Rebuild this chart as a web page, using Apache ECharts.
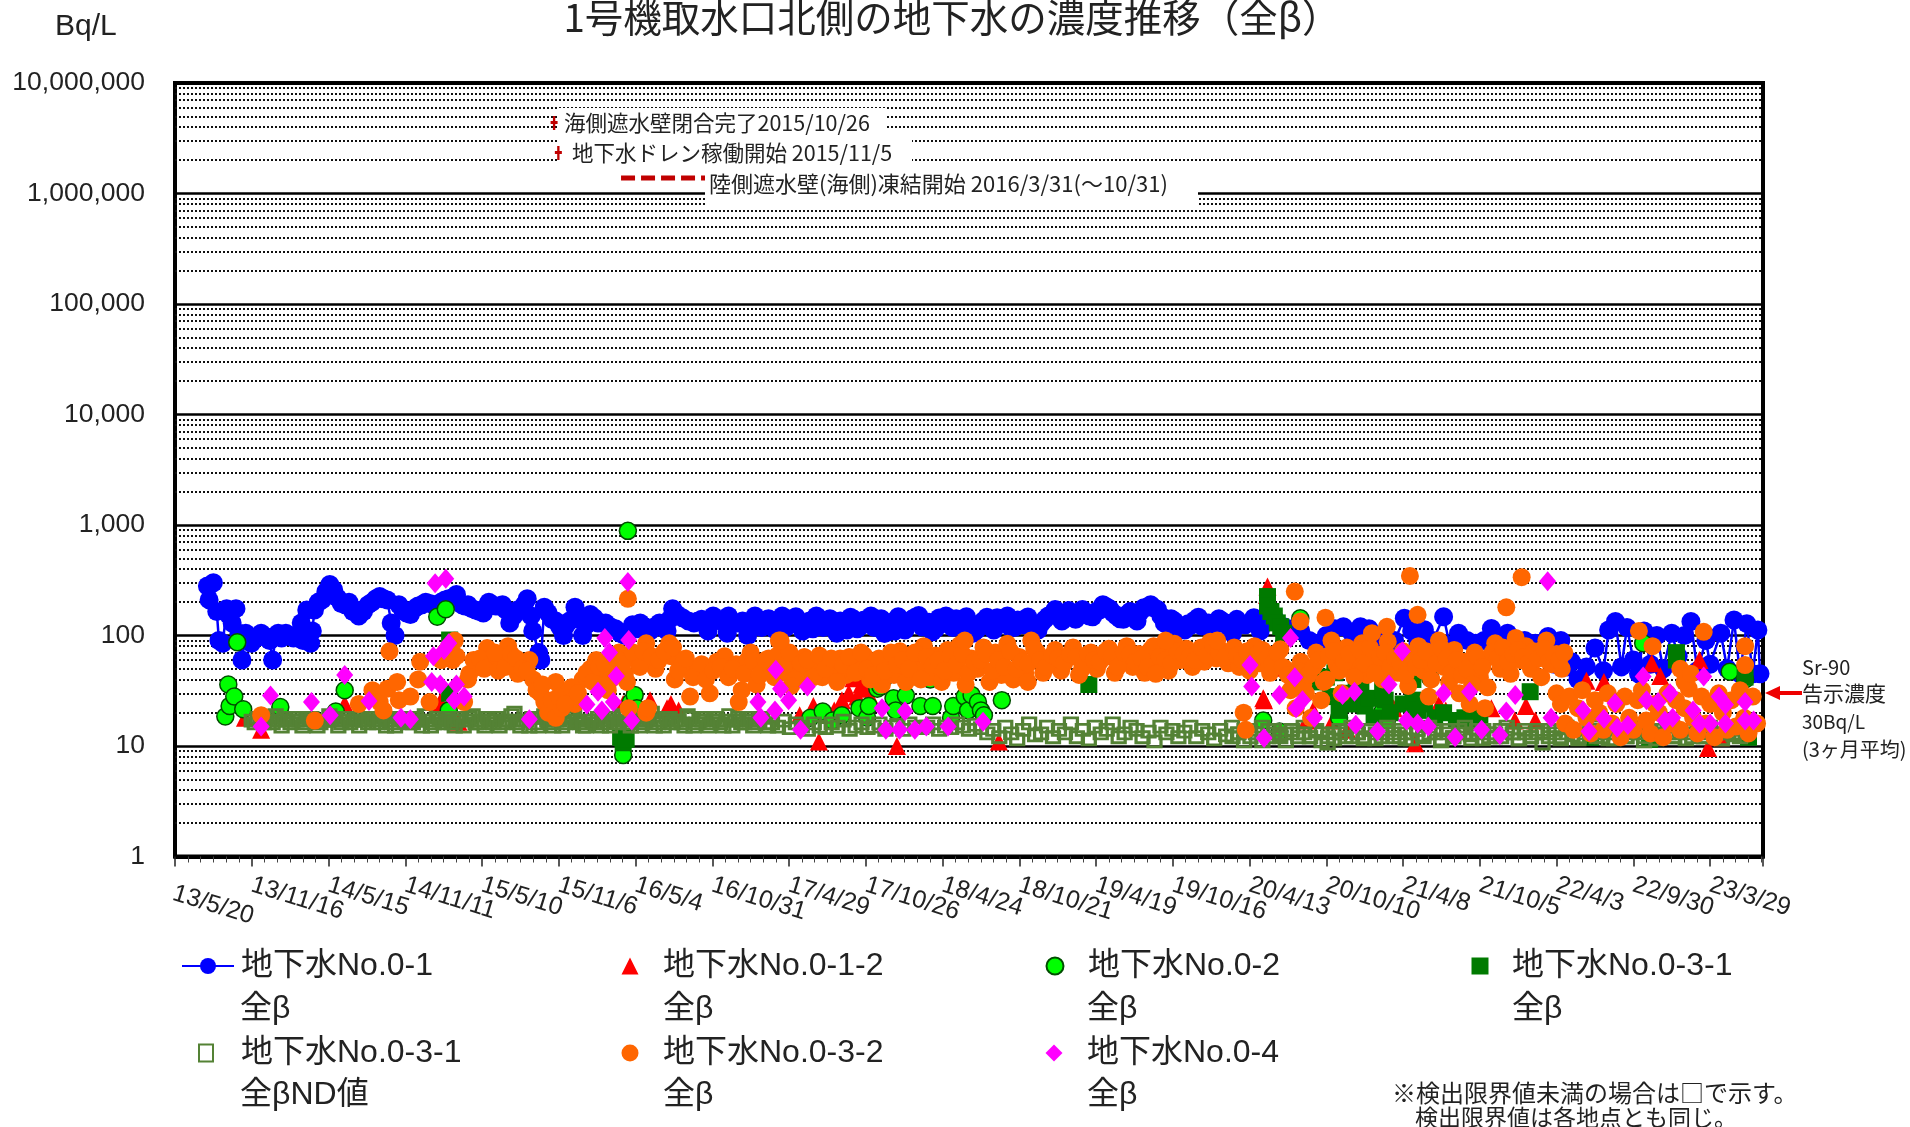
<!DOCTYPE html>
<html><head><meta charset="utf-8">
<script src="https://cdn.jsdelivr.net/npm/echarts@6/dist/echarts.min.js"></script>
<style>html,body{margin:0;background:#fff}#c{width:1910px;height:1127px}</style></head>
<body><div id="c"></div>
<script>
const xTickLabels=['13/5/20','13/11/16','14/5/15','14/11/11','15/5/10','15/11/6','16/5/4','16/10/31','17/4/29','17/10/26','18/4/24','18/10/21','19/4/19','19/10/16','20/4/13','20/10/10','21/4/8','21/10/5','22/4/3','22/9/30','23/3/29'];
const minorGridValues=[];
for(const d of [1,10,100,1000,10000,100000,1000000])for(const m of [2,3,4,5,6,7,8,9])minorGridValues.push(d*m);

// x = days since 2013-05-20
const no01Early=[[76,281],[90,300],[80,210],[98,165],[103,90],[112,85],[121,175],[125,155],[134,130],[143,175],[157,60],[166,105],[179,85],[202,105],[215,95],[229,60],[242,105],[260,105],[278,95],[296,130],[300,90],[309,170],[318,85],[327,170],[345,210],[363,290],[372,260],[390,195],[408,200],[417,165],[431,150],[453,190],[480,225],[498,210],[507,130],[516,100],[525,190],[552,155],[570,185],[588,200],[606,190],[624,200],[642,215],[660,235],[673,190],[687,190],[705,170],[723,160],[736,200],[752,185],[768,190],[776,170],[785,130],[803,170],[826,215],[835,150],[839,110],[853,70],[858,60],[866,180],[884,140],[911,100],[925,135],[938,180],[956,100],[974,155],[992,130],[1010,130],[1033,115],[1055,100],[1064,110],[1091,130],[1114,110],[1136,130],[1154,110],[1167,175],[1190,145],[1217,130],[1235,140],[1250,110],[1262,150],[1280,135],[1295,105],[1298,150],[1320,130],[1343,100]];
const no01Fill=[[150,105],[172,100],[190,95],[208,100],[222,90],[236,100],[250,95],[268,100],[287,100],[308,95],[322,110],[336,200],[354,250],[381,220],[399,190],[424,170],[442,165],[462,200],[471,215],[489,215],[534,170],[543,160],[561,175],[579,190],[597,195],[615,190],[633,210],[651,220],[666,200],[680,185],[696,175],[714,165],[730,180],[744,190],[760,185],[794,150],[812,170],[819,190],[875,160],[893,135],[902,120],[918,125],[947,140],[965,125],[983,145],[1001,130],[1021,120],[1044,105],[1073,125],[1082,115],[1102,120],[1125,120],[1145,120],[1160,140],[1178,155],[1204,135],[1226,135],[1244,125],[1271,140],[1289,140],[1309,130],[1331,135]];
const no01MidStart=1360, no01MidStep=16;
const no01Mid=[150,118,142,112,150,125,148,110,135,150,118,142,105,125,146,115,138,150,120,104,132,148,112,140,152,122,108,144,150,118,136,148,105,128,146,112,140,150,118,135,147,110,130,150,172,135,168,140,172,150,165,190,175,150,140,165,135,178,190,172,130,142,120,112,125,146,130,118,142,130,105];
const no01Mid2Start=1368;
const no01Mid2=[128,138,120,132,118,140,125,130,115,142,128,120,135,112,140,122,130,118,142,125,110,135,128,146,120,132,115,138,125,142,120,130,112,136,122,145,128,118,138,125,132,112,140,155,160,145,150,162,155,148,170,182,160,142,155,150,165,180,178,150,125,135,118,128,138,122,130,125,135,118];
const no01Late=[[2490,140],[2510,125],[2530,145],[2545,110],[2560,135],[2580,140],[2600,120],[2620,115],[2640,110],[2660,90],[2680,85],[2700,100],[2720,115],[2740,120],[2760,105],[2780,120],[2800,115],[2820,95],[2840,85],[2860,90],[2883,143],[2900,110],[2915,85],[2930,113],[2950,90],[2975,148],[2990,80],[3010,105],[3030,90],[3050,85],[3070,90],[3087,116],[3105,85],[3125,105],[3145,80],[3165,90],[3190,85],[3220,98],[3235,55],[3250,90],[3265,52],[3275,58],[3290,40],[3310,52],[3330,77],[3350,48],[3362,112],[3378,134],[3392,52],[3405,118],[3420,60],[3432,45],[3445,110],[3460,55],[3475,100],[3490,50],[3510,105],[3525,65],[3540,100],[3555,134],[3570,48],[3590,90],[3600,55],[3625,105],[3640,50],[3656,138],[3670,45],[3686,128],[3700,45],[3712,112],[3717,45]];

const no012=[[164,18],[202,14],[398,24],[622,25],[665,16.6],[1001,20],[1051,24],[1114,26],[1154,22],[1163,24],[1181,21],[1465,19],[1497,23],[1510,11],[1546,21],[1564,26],[1580,30],[1591,41],[1600,28],[1610,36],[1618,33],[1630,28],[1693,10],[1932,11],[2552,27],[2554,26],[2561,233],[2562,277],[2578,51],[2654,17],[2669,21],[2715,17],[2749,14],[2858,22],[2908,10.6],[2964,24],[2980,21],[3087,22],[3142,17],[3168,23],[3190,17],[3310,39],[3351,38],[3463,56],[3483,43],[3575,60],[3595,9.6],[3625,12],[3677,34]];
const no02=[[118,18.5],[125,36],[128,23],[139,28],[146,87],[160,21.5],[247,22.5],[377,20.5],[398,32],[615,148],[635,173],[642,21],[1051,8.3],[1062,885],[1069,25],[1078,29],[1083,22],[1490,18],[1519,20.5],[1542,17],[1564,19],[1605,22],[1623,18],[1627,23],[1647,33],[1654,34.6],[1663,41],[1685,27],[1690,21],[1714,28.6],[1744,42],[1748,23],[1771,40],[1777,23],[1820,18],[1825,23],[1852,28],[1860,21],[1868,29],[1883,25],[1890,21],[1897,19],[1939,26],[2552,17],[2590,13.5],[2639,143],[2730,18],[2832,20.5],[2842,17],[2944,41],[3443,85],[3646,47],[3682,40]];
const no031=[[644,91],[644,30],[1045,12],[1051,11.7],[1051,10.7],[1058,11.5],[2143,36],[2562,225],[2562,185],[2570,165],[2578,150],[2585,130],[2593,120],[2600,105],[2649,46],[2660,40],[2680,38],[2700,42],[2710,28],[2720,46],[2730,21],[2745,30],[2760,24],[2770,36],[2781,32],[2791,23],[2800,27],[2812,18],[2832,32],[2838,26],[2850,20],[2880,24],[2903,40],[2903,26],[2914,21],[2930,24],[2954,18],[2975,20],[3005,17],[3025,18],[3046,17],[3060,18],[3178,31],[3458,11.5],[3320,12],[3521,70],[3521,60],[3682,42],[3690,12]];

const ndSec1Start=180, ndSec2Start=1400, ndSec3Start=1905, ndStep=14;
const ndSec1=[17,18,16,17,19,15,17,18,17,16,18,15,17,19,17,16,18,17,15,17,18,16,19,17,15,18,17,16,17,19,15,18,16,17,15,18,17,19,16,15,17,18,16,17,20,15,17,18,15,19,16,17,15,18,20,16,15,17,18,16,15,17,19,16,18,15,17,20,16,15,18,17,16,19,15,17,18,16,17,15,19,17,16,18,15,17,16];
const ndSec1bStart=187;
const ndSec1b=[16,17,18,16,17,18,16,17,15,18,17,16,17,18,15,17,16,18,17,16,18,17,15,16,18,17,16,18,15,17,16,17,18,16,17,15,18,16,17,18,16,15,17,19,16,17,15,16,18,17,15,17,16,19,17,15,17,16,15,17,18,16,17,15,17,16,18,15,17,18,16,17,15,18,16,17,15,18,16,17,15,18,16,17,16,18,15];
const ndSec2=[16,15,17,14.5,16,15,14,16,15,14.5,16,15,17,14,15,16,14.5,15,16,14,15,15.5,14,16,15,14.5,15,16,14,15,14.5,16,15,14,15.5,14.5];
const ndSec3=[13,14,12,15,13,11.5,14,16,12.5,13,15,12,14,13,16,12,14,11.5,15,13,14,16,12,13,15,14,12,13.5,11,15,13,14,12,13.5,15,12,14,13,11.5,14,12.5,15,13,11,14,13,15,12,14,12.5,11,14,13,15,12,13.5,11,10.5,13,14,12,15,13,12,14,11.5,13,15,12,14,13,11.5,14,12.5,15,13,11,14,12,13,15,12.5,14,11.5,13,12,14,15,13,11.5,14,12,13,10.5,14,13,12,15,12.5,11.5,14,13,15,12,13,11.5,14,12,15,13,11,14,12.5,13,15,12,14,11.5,13,14,12,15,13,11.5,14,12.5,13];
const ndSec3bStart=2480;
const ndSec3b=[12,13,14,12,13,11,14,13,12,13,14,12,13,12,14,13,12,11.5,13,14,12,13,11.5,14,13,12,14,13,12,11.5,13,14,12,13,14,11.5,13,12,14,13,11.5,13,14,12,13,12,14,13,11.5,13,12,14,13,12,14,11.5,13,14,12,13,14,12,13,11.5,14,13,12,13,14,12,13,11.5,14,13,12,13,14,12,13,12,14,13,11.5,13,14,12,13];

const no032Early=[[202,19],[328,17],[431,24],[463,32],[480,25],[489,21],[498,33],[503,72],[521,38],[525,26],[552,28],[570,40],[575,58],[597,25],[624,60],[633,70],[642,78],[651,60],[656,90],[660,65],[678,25],[687,40],[705,52],[732,77],[741,55],[768,60],[781,80],[795,55],[804,45],[831,60],[840,40],[857,30],[866,25],[875,20],[893,38],[893,18],[907,22],[920,30],[938,24],[956,40],[974,50],[988,60],[1001,42],[1015,32],[1028,55],[1041,70],[1055,45],[1062,215],[1064,22],[1082,60],[1105,85],[1105,20],[1109,22],[1127,50],[1159,85],[1163,65],[1172,40],[1190,55],[1208,28],[1226,50],[1254,30],[1271,58],[1289,65],[1316,55],[1322,25],[1329,32],[1343,60]];
const no032Fill=[[690,45],[700,60],[715,62],[725,50],[750,70],[758,48],[775,52],[788,68],[800,62],[815,50],[825,48],[848,32],[862,36],[884,26],[900,28],[915,24],[930,34],[945,30],[965,46],[980,38],[995,52],[1008,55],[1022,40],[1035,62],[1048,55],[1060,38],[1074,70],[1090,52],[1098,72],[1118,65],[1135,60],[1148,72],[1168,78],[1180,48],[1198,62],[1215,42],[1235,55],[1245,40],[1262,48],[1280,52],[1298,42],[1308,50],[1335,45]];
const no032BandStart=1350, no032BandStep=14;
const no032Band=[70,36,52,62,42,88,46,58,44,64,48,56,42,60,46,62,44,58,48,66,40,52,36,58,44,72,38,60,48,80,42,66,38,74,46,82,36,62,50,78,38,70,44,84,40,64,46,90,70,46,58,74,48,62,78,44,60,70,50,66,76,46,60,80,52,68,46,74,56,72,48,84,60,76,52,70,58,88,62,72,56];
const no032Band2Start=1357;
const no032Band2=[58,44,60,50,66,52,70,40,56,60,42,66,50,62,38,54,64,46,70,50,44,62,48,70,54,60,50,70,40,64,54,60,48,66,54,68,46,58,60,68,48,60,52,72,50,58,56,76,60,52,66,62,56,68,64,50,68,60,58,72,64,52,70,68,58,62,52,80,64,60,56,72,68,64,60,78,66,80,70,64];
const no032Late1Start=2484, no032Late1Step=12;
const no032Late1=[78,52,64,48,80,56,70,46,60,75,50,32,22,58,30,18,70,26,40,90,55,30,78,48,62,85,44,70,52,40,88,58,46,72,35,60,80,48,28,66,90,52,38,74,30,58,24,70,42,22,64,85,50,72,45,95,60,80,50,70,42,90,55,68,50];
const no032Late1bStart=2490;
const no032Late1b=[66,60,72,58,68,74,62,56,70,52,44,40,48,36,44,52,60,38,66,72,48,58,68,42,74,56,78,46,64,70,52,62,56,44,66,52,60,72,40,56,76,62,46,60,44,50,36,64,52,34,70,62,78,58,68,74,64,56,72,62,76,58,66,60,70];
const no032Late2Start=3240, no032Late2Step=10;
const no032Late2=[30,24,16,28,14,22,32,18,13,26,20,14,30,16,24,12,28,18,14,26,32,17,13,24,20,12,30,16,26,14,22,33,18,13,28,16,24,12,30,20,14,26,15,32,18,13,28,16];
const no032Outliers=[[1416,90],[1420,90],[1445,35],[1852,90],[2000,38],[2300,45],[2323,90],[2444,90],[2506,20],[2511,14],[2626,250],[2639,134],[2698,145],[2807,105],[2842,120],[2896,346],[2914,154],[3122,180],[3158,337],[3433,110],[3465,80],[3530,50],[3540,38],[3555,45],[3585,108],[3682,80],[3682,54]];

const no04=[[202,15],[224,28.6],[320,25],[364,19],[398,44],[455,25.6],[530,18],[552,17.5],[602,38],[606,65],[610,297],[622,36],[631,74],[635,327],[642,85],[655,26],[660,36],[678,28],[831,17.5],[966,23.7],[992,31],[1001,21],[1008,95],[1019,70],[1028,25],[1035,43],[1062,305],[1064,91],[1071,17],[1367,25],[1374,18],[1407,21],[1409,49],[1420,33],[1439,26],[1467,14],[1483,34.5],[1658,22],[1667,14],[1699,14],[1712,20.6],[1735,14],[1762,15],[1813,15],[1895,16.6],[2521,54],[2525,34.5],[2554,11.8],[2590,29],[2616,95],[2626,42],[2629,22],[2644,26],[2672,18],[2738,29],[2766,31],[2769,15.6],[2820,13.6],[2847,36],[2878,72],[2888,17],[2914,16],[2939,15],[2975,30],[3002,12],[3036,31],[3064,14],[3107,12.6],[3122,20.5],[3143,29],[3219,310],[3227,18],[3302,21],[3316,13.6],[3351,17.6],[3377,24.5],[3382,14.6],[3407,15.5],[3443,42.5],[3451,26],[3478,25],[3494,17],[3506,30],[3512,18],[3560,21],[3575,16],[3585,42.5],[3600,16],[3621,28],[3636,23.6],[3636,16],[3682,25],[3682,17],[3702,17]];

const eventMarks=[[889,4345000],[899,2330000]];
const freezeLine=[[1046,1380000],[1260,1380000]];

const reg=(start,step,vals)=>vals.map((v,i)=>[start+i*step,v]);
const no01Data=[...no01Early,...no01Fill,...reg(no01MidStart,no01MidStep,no01Mid),...reg(no01Mid2Start,no01MidStep,no01Mid2),...no01Late].sort((a,b)=>a[0]-b[0]);
const ndData=[...reg(ndSec1Start,ndStep,ndSec1),...reg(ndSec1bStart,ndStep,ndSec1b),...reg(ndSec2Start,ndStep,ndSec2),...reg(ndSec3Start,ndStep,ndSec3),...reg(ndSec3bStart,ndStep,ndSec3b)];
const no032Data=[...no032Early,...no032Fill,...reg(no032BandStart,no032BandStep,no032Band),...reg(no032Band2Start,no032BandStep,no032Band2),...reg(no032Late1Start,no032Late1Step,no032Late1),...reg(no032Late1bStart,no032Late1Step,no032Late1b),...reg(no032Late2Start,no032Late2Step,no032Late2),...no032Outliers];

const FONT='"Liberation Sans","Noto Sans CJK JP",sans-serif';
const JP='"Noto Sans CJK JP","Liberation Sans",sans-serif';
const names=['地下水No.0-1\n全β','地下水No.0-1-2\n全β','地下水No.0-2\n全β','地下水No.0-3-1\n全β','地下水No.0-3-1\n全βND値','地下水No.0-3-2\n全β','地下水No.0-4\n全β'];
const legendPos=[[181,950,52,240],[621.5,950,17,663],[1045.5,950,17,1087],[1471.5,950,17,1512],[198,1037,14,240],[621.5,1037,17,663],[1045.5,1037,17,1087]];

const chart=echarts.init(document.getElementById('c'),null,{renderer:'canvas'});
const txt=(text,x,y,size,opt={})=>({type:'text',z:opt.z||11,style:{text,x,y,font:`${opt.style||''} ${size}px ${opt.font||FONT}`,fill:opt.fill||'#222',align:opt.align||'left',verticalAlign:'middle'}});
const box=(x,y,w,h)=>({type:'rect',z:10,shape:{x,y,width:w,height:h},style:{fill:'#fff'}});

chart.setOption({
 animation:false,
 backgroundColor:'#fff',
 grid:{left:175,right:147,top:83,height:773.5,show:true,borderColor:'#000',borderWidth:4,backgroundColor:'transparent'},
 xAxis:{type:'value',min:0,max:3724,interval:180,
  splitLine:{show:false},
  axisLine:{show:true,lineStyle:{color:'#000',width:4}},
  axisTick:{show:true,length:10,lineStyle:{color:'#222',width:1.5}},
  minorTick:{show:true,splitNumber:6,length:6,lineStyle:{color:'#444',width:1}},
  axisLabel:{rotate:-17,margin:28,fontSize:25,color:'#222',fontFamily:FONT,showMaxLabel:false,hideOverlap:false,
   formatter:v=>xTickLabels[Math.round(v/180)]||''}},
 yAxis:{type:'log',logBase:10,min:1,max:10000000,
  axisLine:{show:false},axisTick:{show:false},
  splitLine:{show:true,lineStyle:{color:'#000',width:2.5}},
  minorTick:{show:false},minorSplitLine:{show:false},
  axisLabel:{fontSize:26.5,margin:30,padding:[8,0,0,0],color:'#222',fontFamily:FONT,formatter:v=>Math.round(v).toLocaleString('en-US')}},
 legend:names.map((n,i)=>({data:[n],left:legendPos[i][0],top:legendPos[i][1],padding:0,selectedMode:false,
  itemWidth:legendPos[i][2],itemHeight:i===0?20:17,
  formatter:s=>s.split('\n')[0],
  textStyle:{fontSize:32,color:'#222',fontFamily:FONT,padding:[0,0,0,legendPos[i][3]-legendPos[i][0]-legendPos[i][2]-5]}})),
 series:[
  {name:'grid',type:'line',data:[],silent:true,z:1,
   markLine:{silent:true,symbol:'none',label:{show:false},animation:false,z:1,
    lineStyle:{color:'#111',width:2,type:[2,2]},
    data:minorGridValues.map(v=>({yAxis:v}))}},
  {name:names[0],type:'line',data:no01Data,symbol:'circle',symbolSize:19,z:3,
   lineStyle:{color:'#0000ff',width:2.5},itemStyle:{color:'#0000ff'}},
  {name:names[1],type:'scatter',data:no012,symbol:'triangle',symbolSize:[18,18],z:3,itemStyle:{color:'#ff0000',opacity:1}},
  {name:names[2],type:'scatter',data:no02,symbol:'circle',symbolSize:17,z:3,itemStyle:{color:'#00ff00',borderColor:'#004d00',borderWidth:1.5,opacity:1}},
  {name:names[3],type:'scatter',data:no031,symbol:'rect',symbolSize:[17,17],z:3,itemStyle:{color:'#007a00',opacity:1}},
  {name:names[4],type:'scatter',data:ndData,symbol:'rect',symbolSize:[13,11],z:3,itemStyle:{color:'rgba(0,0,0,0)',borderColor:'#548235',borderWidth:3,opacity:1}},
  {name:names[5],type:'scatter',data:no032Data,symbol:'circle',symbolSize:18,z:3,itemStyle:{color:'#ff6600',opacity:1}},
  {name:names[6],type:'scatter',data:no04,symbol:'diamond',symbolSize:[17,20],z:3,itemStyle:{color:'#ff00ff',opacity:1}},
  {name:'events',type:'scatter',data:eventMarks,symbol:'path://M2,0H4V5H6V8H4V14H2V8H0V5H2Z',symbolSize:[7,14],z:12,itemStyle:{color:'#c00000',opacity:1}},
  {name:'freeze',type:'line',data:freezeLine,symbol:'none',z:5,lineStyle:{color:'#c00000',width:5,type:[14,6]}}
 ],
 graphic:{elements:[
  box(557,108,330,26),box(557,136,355,27),box(705,165,493,42),
  txt('1号機取水口北側の地下水の濃度推移（全β）',952,17,38.5,{align:'center',font:JP}),
  txt('Bq/L',55,27,30),
  {type:'text',z:11,x:177,y:881,rotation:-17*Math.PI/180,style:{text:xTickLabels[0],x:0,y:0,font:`25px ${FONT}`,fill:'#222',align:'left',verticalAlign:'top'}},
  txt('海側遮水壁閉合完了2015/10/26',564,123,21.5,{font:JP}),
  txt('地下水ドレン稼働開始 2015/11/5',572,153,21.5,{font:JP}),
  txt('陸側遮水壁(海側)凍結開始 2016/3/31(～10/31)',709,184,22,{font:JP}),
  txt('Sr-90',1802,667,20,{font:JP}),
  txt('告示濃度',1802,693,21,{font:JP}),
  txt('30Bq/L',1802,722,19,{font:JP}),
  txt('(3ヶ月平均)',1802,749,20,{font:JP}),
  {type:'line',z:11,shape:{x1:1802,y1:693,x2:1775,y2:693},style:{stroke:'#ee0000',lineWidth:4}},
  {type:'polygon',z:11,shape:{points:[[1765,693],[1780,686],[1780,700]]},style:{fill:'#ee0000'}},
  txt('※検出限界値未満の場合は□で示す。',1392,1093,24,{font:JP}),
  txt('検出限界値は各地点とも同じ。',1415,1117,23,{font:JP}),
  ...names.map((n,i)=>txt(n.split('\n')[1],legendPos[i][3],(i<4?1009:1095),32))
 ]}
});
</script></body></html>
